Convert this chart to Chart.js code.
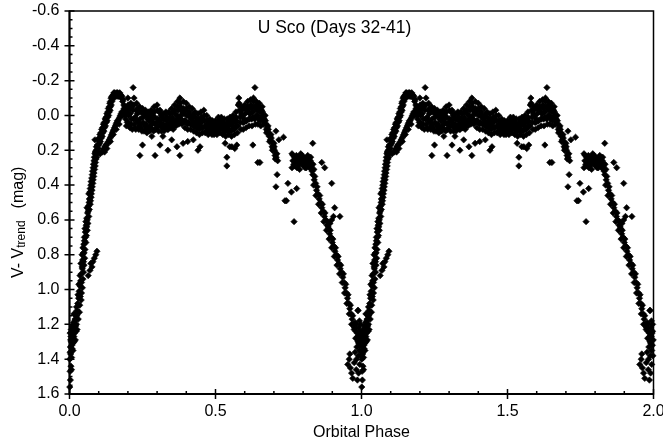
<!DOCTYPE html>
<html>
<head>
<meta charset="utf-8">
<script src="https://cdn.jsdelivr.net/npm/chart.js@4/dist/chart.umd.min.js"></script>
<style>
  html, body { margin: 0; padding: 0; background: #fff; }
  #wrap { width: 663px; height: 445px; }
</style>
</head>
<body>
<div id="wrap"><canvas id="c" width="663" height="445"></canvas></div>
<script>
// ticks
const xTicks = [0, 0.5, 1.0, 1.5, 2.0];
const yTicks = [-0.6, -0.4, -0.2, 0.0, 0.2, 0.4, 0.6, 0.8, 1.0, 1.2, 1.4, 1.6];

// folded light curve, [phase, V - Vtrend], one orbit (phase 0..1)
const minimum = [
  [0.001,1.56],[0.003,1.52],[0.002,1.47],[0.005,1.44],[0.001,1.40],[0.004,1.37],[0.007,1.39],[0.003,1.33],
  [0.006,1.30],[0.009,1.34],[0.008,1.28],[0.011,1.31],[0.010,1.26],[0.013,1.29],[0.012,1.24],[0.015,1.27],
  [0.014,1.22],[0.017,1.25],[0.016,1.20],[0.019,1.23],[0.018,1.18],[0.021,1.21],[0.023,1.24],[0.020,1.29],
  [0.024,1.20],[0.026,1.23],[0.022,1.17],[0.025,1.15],[0.007,1.46],[0.004,1.29],[0.012,1.35],
  [0.002,1.25],[0.006,1.23],[0.010,1.21],[0.014,1.19],[0.019,1.17],[0.008,1.32],[0.016,1.30],[0.002,1.36],
  [0.005,1.27],[0.018,1.14],
  [0.953,1.43],[0.958,1.40],[0.962,1.45],[0.966,1.48],[0.970,1.51],[0.960,1.37],[0.975,1.42],[0.982,1.46],
  [0.986,1.52],[0.990,1.48],[0.994,1.43],[0.978,1.36],[0.984,1.33],[0.988,1.30],[0.992,1.27],[0.996,1.32],
  [0.998,1.38],[0.980,1.28],[0.985,1.25],[0.990,1.22],[0.995,1.25],[0.999,1.29],[0.976,1.22],[0.982,1.20],
  [0.988,1.12],[0.993,1.18],[0.997,1.20],
  [0.981,1.24],[0.987,1.27],[0.991,1.31],[0.994,1.35],[0.983,1.40],[0.989,1.38],[0.997,1.24]
];

const rising = [
  [0.022,1.15],[0.030,1.17],[0.026,1.12],[0.034,1.13],[0.028,1.08],[0.035,1.09],[0.031,1.05],[0.040,1.06],
  [0.033,1.01],[0.041,1.02],[0.036,0.98],[0.044,0.99],[0.038,0.95],[0.046,0.94],[0.040,0.91],[0.048,0.90],
  [0.043,0.87],[0.050,0.86],[0.045,0.83],[0.052,0.82],[0.047,0.79],[0.053,0.77],[0.049,0.74],[0.056,0.73],
  [0.051,0.70],[0.058,0.69],[0.054,0.67],[0.061,0.66],[0.057,0.63],[0.063,0.62],[0.059,0.59],[0.066,0.58],
  [0.062,0.56],[0.068,0.54],[0.065,0.52],[0.071,0.51],[0.068,0.48],[0.074,0.47],[0.070,0.44],[0.077,0.43],
  [0.073,0.40],[0.080,0.39],[0.076,0.36],[0.083,0.35],[0.079,0.32],[0.086,0.31],[0.082,0.28],[0.089,0.27],
  [0.085,0.24],[0.093,0.24],[0.088,0.21],[0.097,0.21],[0.092,0.18],[0.100,0.17],[0.097,0.14],[0.106,0.15],
  [0.104,0.11],[0.112,0.12],[0.110,0.08],[0.118,0.09],[0.116,0.05],[0.123,0.06],[0.122,0.02],[0.129,0.03],
  [0.128,-0.01],[0.134,0.00],[0.133,-0.04],[0.139,-0.03],[0.138,-0.07],[0.143,-0.06],[0.142,-0.10],[0.147,-0.09],
  [0.015,1.14],[0.024,1.10],[0.029,1.03],[0.037,1.04],[0.032,0.97],[0.041,0.96],[0.036,0.92],[0.044,0.88],
  [0.039,0.85],[0.048,0.84],[0.043,0.80],[0.050,0.79],[0.046,0.76],[0.051,0.72],[0.055,0.70],[0.053,0.65],
  [0.059,0.64],[0.056,0.61],[0.061,0.60],[0.064,0.55],[0.060,0.53],[0.067,0.50],[0.072,0.49],[0.066,0.45],
  [0.075,0.45],[0.071,0.42],[0.078,0.41],[0.074,0.38],[0.081,0.37],[0.078,0.34],[0.084,0.33],[0.081,0.30],
  [0.088,0.29],[0.084,0.26],[0.091,0.25],[0.087,0.22],[0.095,0.22],[0.091,0.20],[0.099,0.19],[0.095,0.17],
  [0.103,0.16],[0.101,0.13],[0.109,0.13],[0.107,0.10],[0.114,0.10],[0.113,0.07],[0.120,0.07],[0.119,0.04],
  [0.126,0.04],[0.125,0.01],[0.131,0.01],[0.131,-0.02],[0.136,-0.02],[0.136,-0.05],[0.140,-0.05],[0.140,-0.08],
  [0.145,-0.08],[0.145,-0.11],[0.149,-0.10],
  // spur
  [0.064,0.92],[0.070,0.89],[0.077,0.87],[0.080,0.84],[0.085,0.82],[0.090,0.80],[0.094,0.78],[0.073,0.85]
];

const peak = [
  [0.150,-0.12],[0.155,-0.13],[0.160,-0.12],[0.165,-0.13],[0.170,-0.12],[0.175,-0.12],[0.180,-0.11],[0.158,-0.11],
  [0.168,-0.11],[0.178,-0.10],[0.184,-0.09],[0.186,-0.06],[0.188,-0.03],[0.190,-0.01],
  [0.152,-0.13],[0.162,-0.13],[0.172,-0.13],[0.163,-0.11],[0.173,-0.11],[0.182,-0.08],[0.187,-0.04],
  // lower branch
  [0.112,0.21],[0.118,0.19],[0.124,0.17],[0.130,0.16],[0.136,0.14],[0.142,0.12],[0.147,0.10],[0.152,0.08],
  [0.157,0.06],[0.162,0.04],[0.167,0.03],[0.172,0.01],[0.177,-0.01],[0.182,0.00],[0.128,0.19],[0.140,0.15],
  [0.150,0.11],[0.160,0.08],[0.170,0.05],[0.105,0.22],[0.120,0.21],
  [0.115,0.20],[0.121,0.18],[0.127,0.17],[0.133,0.15],[0.139,0.13],[0.144,0.11],[0.149,0.09],[0.154,0.07],
  [0.159,0.05],[0.164,0.03],[0.169,0.02],[0.174,0.00],[0.179,-0.02],[0.185,-0.01]
];

const plateau = [
  [0.190,-0.05],[0.192,0.02],[0.195,0.06],[0.197,-0.02],
  [0.200,-0.10],[0.202,0.04],[0.205,-0.04],[0.207,0.07],[0.203,0.00],
  [0.210,-0.07],[0.212,0.02],[0.215,0.08],[0.217,-0.03],
  [0.218,-0.16],[0.220,-0.06],[0.222,0.05],[0.225,0.01],[0.227,0.08],
  [0.230,-0.07],[0.232,-0.01],[0.235,0.04],[0.237,0.08],
  [0.240,-0.05],[0.242,0.02],[0.245,0.07],[0.247,-0.02],
  [0.250,-0.04],[0.252,0.04],[0.255,0.09],[0.257,0.00],
  [0.260,-0.03],[0.262,0.05],[0.265,0.10],[0.267,0.02],
  [0.270,-0.02],[0.272,0.03],[0.275,0.09],[0.277,0.06],
  [0.280,-0.03],[0.282,0.02],[0.285,0.08],[0.287,0.04],
  [0.290,-0.05],[0.292,0.01],[0.295,0.08],[0.297,0.04],
  [0.300,-0.06],[0.302,0.02],[0.305,0.09],[0.307,-0.02],
  [0.310,-0.03],[0.312,0.04],[0.315,0.09],[0.317,0.01],
  [0.320,-0.01],[0.322,0.05],[0.325,0.08],[0.327,0.02],
  [0.330,-0.02],[0.332,0.03],[0.335,0.08],[0.337,0.05],
  [0.340,-0.02],[0.342,0.02],[0.345,0.07],[0.347,0.04],
  [0.350,-0.04],[0.352,0.01],[0.355,0.08],[0.357,0.03],
  [0.360,-0.06],[0.362,-0.01],[0.365,0.06],[0.367,0.02],
  [0.370,-0.08],[0.372,-0.03],[0.375,0.05],[0.377,0.01],
  [0.378,-0.10],[0.380,-0.05],[0.382,0.02],[0.385,0.05],[0.387,-0.02],
  [0.390,-0.08],[0.392,-0.01],[0.395,0.07],[0.397,0.03],
  [0.400,-0.07],[0.402,0.00],[0.405,0.08],[0.407,0.04],
  [0.410,-0.05],[0.412,0.01],[0.415,0.08],[0.417,0.05],
  [0.420,-0.04],[0.422,0.03],[0.425,0.09],[0.427,0.06],
  [0.430,-0.02],[0.432,0.04],[0.435,0.10],[0.437,0.07],
  [0.440,-0.01],[0.442,0.05],[0.445,0.11],[0.447,0.03],
  [0.450,-0.02],[0.452,0.04],[0.455,0.10],[0.457,0.07],
  [0.460,-0.03],[0.462,0.03],[0.465,0.10],[0.467,0.06],
  [0.470,0.00],[0.472,0.05],[0.475,0.11],[0.477,0.08],
  [0.480,0.02],[0.482,0.06],[0.485,0.10],[0.487,0.08],
  [0.490,0.03],[0.492,0.07],[0.495,0.11],[0.497,0.05],
  [0.500,0.03],[0.502,0.08],[0.505,0.11],[0.507,0.06],
  [0.510,0.01],[0.512,0.05],[0.515,0.10],[0.517,0.07],
  [0.520,0.01],[0.522,0.06],[0.525,0.11],[0.527,0.04],
  [0.530,0.02],[0.532,0.07],[0.535,0.12],[0.537,0.05],
  [0.540,0.02],[0.542,0.06],[0.545,0.11],[0.547,0.08],
  [0.550,0.01],[0.552,0.05],[0.555,0.12],[0.557,0.08],
  [0.560,0.00],[0.562,0.04],[0.565,0.11],[0.567,0.07],
  [0.570,-0.02],[0.572,0.03],[0.575,0.10],[0.577,0.06],
  [0.580,-0.10],[0.582,-0.03],[0.585,0.04],[0.587,0.08],
  [0.590,-0.05],[0.592,0.00],[0.595,0.08],[0.597,0.04],
  [0.600,-0.06],[0.602,-0.01],[0.605,0.07],[0.607,0.03],
  [0.610,-0.08],[0.612,-0.02],[0.615,0.06],[0.617,0.02],
  [0.620,-0.09],[0.622,-0.04],[0.625,0.06],[0.627,0.01],
  [0.630,-0.10],[0.632,-0.05],[0.635,-0.16],[0.637,0.05],[0.639,0.00],
  [0.640,-0.08],[0.642,-0.03],[0.645,0.05],[0.647,0.02],
  [0.650,-0.07],[0.652,-0.02],[0.655,0.06],[0.657,0.01],
  [0.660,-0.05],[0.662,0.00],[0.665,0.05],[0.667,0.02],
  [0.670,0.00],[0.672,0.05],[0.675,0.10],[0.677,0.07],
  [0.680,0.06],[0.682,0.10],[0.685,0.15],[0.687,0.12],
  [0.690,0.11],[0.692,0.15],[0.695,0.20],[0.697,0.17],
  [0.700,0.16],[0.702,0.20],[0.705,0.25],[0.707,0.22],
  [0.710,0.22],[0.713,0.26]
];

const plateauFill = [
  [0.191,0.00],[0.194,-0.03],[0.198,0.04],[0.201,-0.06],[0.204,0.06],[0.208,-0.01],
  [0.211,0.05],[0.214,-0.05],[0.219,0.02],[0.221,-0.10],[0.224,0.07],[0.228,-0.03],
  [0.231,0.03],[0.234,-0.04],[0.238,0.06],[0.241,-0.02],[0.244,0.05],[0.248,0.09],
  [0.251,0.01],[0.254,-0.01],[0.258,0.06],[0.261,0.08],[0.264,0.00],[0.268,0.07],
  [0.271,0.01],[0.274,0.07],[0.278,-0.01],[0.281,0.05],[0.284,0.00],[0.288,0.09],
  [0.291,-0.02],[0.294,0.05],[0.298,0.07],[0.301,-0.03],[0.304,0.06],[0.308,0.03],
  [0.311,0.06],[0.314,0.00],[0.318,0.07],[0.321,0.02],[0.324,0.09],[0.328,-0.01],
  [0.331,0.06],[0.334,0.01],[0.338,0.08],[0.341,0.05],[0.344,-0.01],[0.348,0.07],
  [0.351,0.05],[0.354,-0.02],[0.358,0.06],[0.361,-0.03],[0.364,0.04],[0.368,0.00],
  [0.371,-0.05],[0.374,0.03],[0.379,-0.07],[0.381,0.00],[0.384,-0.03],[0.388,0.04],
  [0.391,-0.04],[0.394,0.03],[0.398,-0.03],[0.401,-0.04],[0.404,0.05],[0.408,-0.01],
  [0.411,-0.02],[0.414,0.05],[0.418,0.02],[0.421,0.00],[0.424,0.06],[0.428,-0.01],
  [0.431,0.01],[0.434,0.07],[0.438,0.03],[0.441,0.02],[0.444,0.08],[0.448,0.06],
  [0.451,0.01],[0.454,0.07],[0.458,0.02],[0.461,0.00],[0.464,0.06],[0.468,0.09],
  [0.471,0.03],[0.474,0.08],[0.478,0.05],[0.481,0.04],[0.484,0.08],[0.488,0.11],
  [0.491,0.05],[0.494,0.09],[0.498,0.08],[0.501,0.06],[0.504,0.09],[0.508,0.04],
  [0.511,0.03],[0.514,0.08],[0.518,0.05],[0.521,0.03],[0.524,0.08],[0.528,0.10],
  [0.531,0.05],[0.534,0.09],[0.538,0.08],[0.541,0.04],[0.544,0.09],[0.548,0.05],
  [0.551,0.03],[0.554,0.09],[0.558,0.06],[0.561,0.02],[0.564,0.08],[0.568,0.04],
  [0.571,0.01],[0.574,0.06],[0.578,-0.06],[0.581,-0.07],[0.584,0.01],[0.588,-0.01],
  [0.591,-0.03],[0.594,0.04],[0.598,0.02],[0.601,-0.04],[0.604,0.03],[0.608,-0.03],
  [0.611,-0.05],[0.614,0.02],[0.618,-0.01],[0.621,-0.06],[0.624,0.02],[0.628,-0.02],
  [0.631,-0.08],[0.634,0.02],[0.638,-0.04],[0.641,-0.06],[0.644,0.00],[0.648,-0.04],
  [0.651,-0.05],[0.654,0.03],[0.658,-0.03],[0.661,-0.02],[0.664,0.03],[0.668,0.04],
  [0.671,0.03],[0.674,0.08],[0.678,0.09],[0.681,0.08],[0.684,0.12],[0.688,0.14],
  [0.691,0.13],[0.694,0.18],[0.698,0.19],[0.701,0.18],[0.704,0.23],[0.708,0.24]
];

const hump = [
  [0.762,0.22],[0.765,0.26],[0.762,0.30],[0.768,0.28],[0.771,0.24],[0.774,0.27],[0.777,0.23],[0.780,0.26],
  [0.783,0.29],[0.786,0.24],[0.789,0.27],[0.792,0.22],[0.795,0.25],[0.798,0.28],[0.801,0.24],[0.804,0.27],
  [0.807,0.30],[0.810,0.25],[0.813,0.28],[0.816,0.23],[0.819,0.27],[0.822,0.30],[0.825,0.26],[0.828,0.29],
  [0.831,0.32],[0.833,0.16],[0.834,0.28],[0.837,0.31],
  [0.766,0.23],[0.770,0.29],[0.775,0.25],[0.779,0.30],[0.784,0.26],[0.788,0.31],[0.793,0.27],[0.797,0.23],
  [0.802,0.29],[0.806,0.25],[0.811,0.30],[0.815,0.26],[0.820,0.24],[0.824,0.28],[0.829,0.31],[0.826,0.24]
];

const descent = [
  [0.833,0.34],[0.838,0.37],[0.836,0.40],[0.843,0.39],[0.846,0.43],[0.844,0.46],[0.851,0.45],[0.855,0.48],
  [0.853,0.51],[0.860,0.50],[0.864,0.53],[0.862,0.56],[0.869,0.55],[0.873,0.58],[0.871,0.61],[0.878,0.60],
  [0.882,0.63],[0.880,0.66],[0.887,0.65],[0.891,0.68],[0.889,0.71],[0.896,0.70],[0.900,0.73],[0.898,0.76],
  [0.905,0.75],[0.909,0.78],[0.907,0.81],[0.914,0.80],[0.918,0.83],[0.916,0.86],[0.923,0.85],[0.927,0.88],
  [0.925,0.91],[0.932,0.90],[0.936,0.93],[0.934,0.96],[0.941,0.96],[0.944,0.99],[0.942,1.02],[0.949,1.02],
  [0.952,1.05],[0.950,1.08],[0.957,1.08],[0.960,1.11],[0.958,1.14],[0.965,1.14],[0.968,1.17],[0.966,1.20],
  [0.972,1.20],[0.975,1.23],
  [0.840,0.35],[0.848,0.41],[0.857,0.46],[0.866,0.51],[0.875,0.56],[0.884,0.61],[0.893,0.66],[0.902,0.71],
  [0.911,0.76],[0.920,0.81],[0.929,0.86],[0.938,0.91],[0.946,0.97],[0.954,1.03],[0.962,1.09],[0.970,1.15],
  [0.978,1.19],
  [0.892,0.62],[0.898,0.60],[0.904,0.58],[0.886,0.64]
];

const scatter = [
  [0.087,0.14],[0.241,0.23],[0.250,0.17],[0.282,0.12],[0.293,0.23],[0.310,0.17],[0.320,0.12],[0.337,0.20],
  [0.350,0.14],[0.368,0.18],[0.378,0.23],[0.389,0.16],[0.405,0.15],[0.424,0.14],[0.440,0.20],[0.447,0.18],
  [0.533,0.16],[0.539,0.24],[0.539,0.29],[0.549,0.18],[0.556,0.18],[0.566,0.19],[0.573,0.17],[0.628,0.17],
  [0.645,0.27],[0.652,0.27],[0.707,0.09],[0.717,0.14],[0.733,0.125],[0.711,0.34],[0.707,0.41],[0.743,0.49],
  [0.748,0.39],[0.760,0.44],[0.778,0.42],[0.769,0.61],[0.738,0.49],[0.864,0.27],[0.874,0.30],[0.898,0.39],
  [0.908,0.53],[0.926,0.58],[0.988,1.12]
];

const orbit = [...minimum, ...rising, ...peak, ...plateau, ...plateauFill, ...hump, ...descent, ...scatter];
// the folded curve is plotted twice, phase 0..1 and 1..2
const points = orbit.map(([p, m]) => ({ x: p, y: m }))
  .concat(orbit.map(([p, m]) => ({ x: p + 1, y: m })));

const FONT = "'Liberation Sans', Arial, Helvetica, sans-serif";

const axisDecor = {
  id: 'axisDecor',
  afterDraw(chart) {
    const { ctx, chartArea: a, scales: { x, y } } = chart;
    ctx.save();
    ctx.strokeStyle = '#000';
    ctx.lineWidth = 1.5;
    ctx.strokeRect(a.left, a.top, a.right - a.left, a.bottom - a.top);

    ctx.lineWidth = 2;
    ctx.beginPath();
    ctx.moveTo(a.left, a.top); ctx.lineTo(a.left, a.bottom + 1);
    ctx.moveTo(a.left - 1, a.bottom); ctx.lineTo(a.right, a.bottom);
    ctx.stroke();

    ctx.lineWidth = 1.5;
    ctx.beginPath();
    for (let i = 0; i <= 44; i++) {
      const py = y.getPixelForValue(-0.6 + i * 0.05);
      const major = i % 4 === 0;
      ctx.moveTo(a.left - (major ? 5 : 0), py);
      ctx.lineTo(a.left + (major ? 5 : 3), py);
    }
    for (let i = 0; i <= 20; i++) {
      const px = x.getPixelForValue(i * 0.1);
      const major = i % 5 === 0;
      ctx.moveTo(px, a.bottom + (major ? 5 : 0));
      ctx.lineTo(px, a.bottom - (major ? 5 : 3));
    }
    ctx.stroke();

    ctx.fillStyle = '#000';
    ctx.textAlign = 'center';
    ctx.textBaseline = 'middle';
    ctx.font = '17.5px ' + FONT;
    ctx.fillText('U Sco (Days 32-41)', chart.width / 2 + 3, a.top + 17);
    ctx.font = '16px ' + FONT;
    ctx.fillText('Orbital Phase', (a.left + a.right) / 2, 433);

    // y title with subscript, read bottom to top
    ctx.translate(17, 0);
    ctx.rotate(-Math.PI / 2);
    ctx.textAlign = 'left';
    ctx.textBaseline = 'alphabetic';
    const big = '16px ' + FONT, small = '12px ' + FONT;
    let cx = -278;
    ctx.font = big; ctx.fillText('V- V', cx, 6); cx += ctx.measureText('V- V').width;
    ctx.font = small; ctx.fillText('trend', cx, 8); cx += ctx.measureText('trend').width + 12;
    ctx.font = big; ctx.fillText('(mag)', cx, 6);
    ctx.restore();
  }
};

const fmt = v => (Math.abs(v) < 1e-9 ? 0 : v).toFixed(1);

new Chart(document.getElementById('c'), {
  type: 'scatter',
  data: {
    datasets: [{
      data: points,
      pointStyle: 'rectRot',
      pointRadius: 3.2,
      pointBorderWidth: 0.6,
      backgroundColor: '#000',
      borderColor: '#000',
      clip: false
    }]
  },
  options: {
    responsive: false,
    animation: false,
    events: [],
    layout: { padding: { top: 11, right: 9.5, left: 0, bottom: 0 } },
    plugins: { legend: { display: false }, tooltip: { enabled: false }, title: { display: false } },
    scales: {
      x: {
        type: 'linear', min: 0, max: 2,
        afterBuildTicks: s => { s.ticks = xTicks.map(v => ({ value: v })); },
        afterFit: s => { s.height = 51; s.paddingLeft = 0; s.paddingRight = 0; },
        grid: { display: false, drawTicks: false },
        border: { display: false },
        ticks: { color: '#000', font: { family: FONT, size: 16 }, padding: 8, callback: fmt, maxRotation: 0 }
      },
      y: {
        type: 'linear', min: -0.6, max: 1.6, reverse: true,
        afterBuildTicks: s => { s.ticks = yTicks.map(v => ({ value: v })); },
        afterFit: s => { s.width = 69.5; s.paddingTop = 0; s.paddingBottom = 0; },
        grid: { display: false, drawTicks: false },
        border: { display: false },
        ticks: { color: '#000', font: { family: FONT, size: 16 }, padding: 10, callback: fmt }
      }
    }
  },
  plugins: [axisDecor]
});
</script>
</body>
</html>
